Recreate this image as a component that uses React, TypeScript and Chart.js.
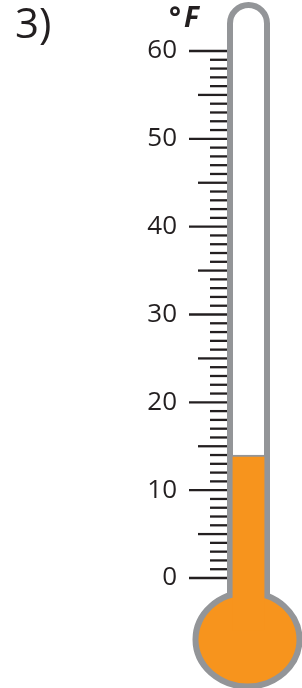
import React, { useEffect, useRef } from "react";
import { Chart, registerables } from "chart.js";

Chart.register(...registerables);

const categories = ["Temperature"];
const readingRange = [-6, 14]; // bar runs from inside the bulb up to the reading (°F)
const tickLabels = [0, 10, 20, 30, 40, 50, 60];
const axisMin = 0;
const axisMax = 60;
const minorStep = 1;
const problemLabel = "3)";
const unitDegree = "°";
const unitLetter = "F";

const ORANGE = "#F7941D";
const GRAY = "#939598";
const INK = "#231f20";

const thermoPlugin = {
  id: "thermo",
  beforeDatasetsDraw(chart: any) {
    const ctx = chart.ctx;
    const area = chart.chartArea;
    const y = chart.scales.y;
    const cx = (area.left + area.right) / 2;
    const half = 18.5;
    const topY = y.getPixelForValue(axisMax) - 46;
    const bulbCy = y.getPixelForValue(-7);
    ctx.save();
    ctx.strokeStyle = GRAY;
    ctx.lineWidth = 6;
    ctx.beginPath();
    ctx.moveTo(cx - half, bulbCy - 20);
    ctx.lineTo(cx - half, topY + half);
    ctx.arc(cx, topY + half, half, Math.PI, 0);
    ctx.lineTo(cx + half, bulbCy - 20);
    ctx.stroke();
    ctx.beginPath();
    ctx.ellipse(cx - 1, bulbCy, 49, 44, 0, 0, Math.PI * 2);
    ctx.lineWidth = 12;
    ctx.stroke();
    ctx.fillStyle = ORANGE;
    ctx.fill();
    ctx.restore();
  },
  afterDraw(chart: any) {
    const ctx = chart.ctx;
    const area = chart.chartArea;
    const y = chart.scales.y;
    const right = area.left;
    ctx.save();
    ctx.strokeStyle = INK;
    ctx.lineWidth = 2.3;
    for (let v = axisMin; v <= axisMax; v += minorStep) {
      const py = y.getPixelForValue(v);
      const len = v % 10 === 0 ? 38 : v % 5 === 0 ? 29 : 17;
      ctx.beginPath();
      ctx.moveTo(right - len, py);
      ctx.lineTo(right, py);
      ctx.stroke();
    }
    ctx.fillStyle = INK;
    ctx.textBaseline = "alphabetic";
    ctx.textAlign = "left";
    ctx.font = "42px 'Open Sans'";
    ctx.fillText(problemLabel, 15, 38);
    ctx.font = "bold 28px 'Open Sans'";
    ctx.fillText(unitDegree, 169, 27);
    ctx.font = "italic bold 28px 'Open Sans'";
    ctx.fillText(unitLetter, 184, 27);
    ctx.restore();
  },
};

export default function App() {
  const ref = useRef<HTMLCanvasElement>(null);
  useEffect(() => {
    if (!ref.current) return;
    const chart = new Chart(ref.current, {
      type: "bar",
      data: {
        labels: categories,
        datasets: [
          {
            data: [readingRange as any],
            backgroundColor: ORANGE,
            borderColor: GRAY,
            borderWidth: { top: 2, left: 0, right: 0, bottom: 0 } as any,
            borderSkipped: false,
            barThickness: 32,
            clip: false as any,
          },
        ],
      },
      options: {
        animation: false,
        responsive: false,
        layout: { padding: { top: 51, bottom: 110, left: 0, right: 32 } },
        plugins: { legend: { display: false }, tooltip: { enabled: false }, title: { display: false } },
        scales: {
          x: { display: false },
          y: {
            min: axisMin,
            max: axisMax,
            afterFit: (scale: any) => {
              scale.width = 227;
            },
            afterBuildTicks: (scale: any) => {
              scale.ticks = tickLabels.map((v) => ({ value: v }));
            },
            grid: { display: false, drawTicks: false },
            border: { display: false },
            ticks: {
              padding: 50,
              color: INK,
              font: { family: "'Open Sans'", size: 26, lineHeight: 0.05 },
            },
          },
        },
      },
      plugins: [thermoPlugin],
    });
    return () => chart.destroy();
  }, []);
  return (
    <div style={{ position: "fixed", left: 0, top: 0, width: 302, height: 688, background: "#fff" }}>
      <canvas ref={ref} width={302} height={688} />
    </div>
  );
}
